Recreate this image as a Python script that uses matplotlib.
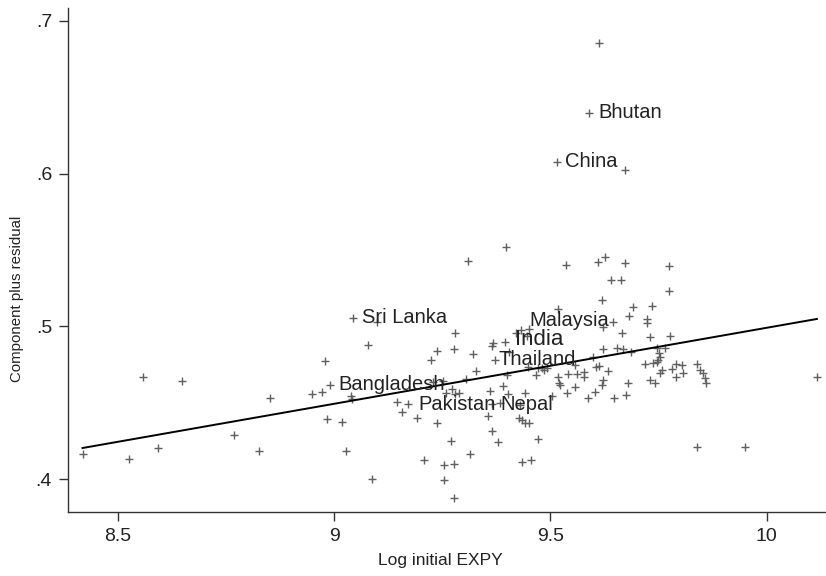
import matplotlib.pyplot as plt

plt.rcParams["font.family"] = ["Liberation Sans", "DejaVu Sans"]

# log initial EXPY and component plus residual
log_expy = [
    8.418, 8.526, 8.557, 8.592, 8.649, 8.768, 8.825, 8.851,
    8.949, 8.971, 8.979, 8.983, 9.017, 9.027, 9.038, 9.040,
    9.079, 9.087, 9.098, 9.146, 9.157, 9.192, 9.208, 9.223,
    9.229, 9.237, 9.237, 9.252, 9.254, 9.254, 9.258, 9.272,
    9.270, 9.277, 9.280, 9.279, 9.278, 9.278, 9.288, 9.304,
    9.309, 9.314, 9.320, 9.327, 9.355, 9.360, 9.364, 9.364,
    9.368, 9.379, 9.383, 9.391, 9.397, 9.400, 9.402, 9.405,
    9.420, 9.428, 9.430, 9.433, 9.435, 9.441, 9.441, 9.445,
    9.449, 9.451, 9.451, 9.455, 9.466, 9.470, 9.472, 9.480,
    9.485, 9.491, 9.503, 9.518, 9.518, 9.520, 9.523, 9.537,
    9.539, 9.541, 9.557, 9.557, 9.561, 9.577, 9.577, 9.587,
    9.599, 9.603, 9.605, 9.609, 9.611, 9.611, 9.618, 9.620,
    9.621, 9.622, 9.622, 9.626, 9.634, 9.640, 9.645, 9.647,
    9.653, 9.663, 9.666, 9.668, 9.672, 9.672, 9.674, 9.680,
    9.682, 9.686, 9.691, 9.718, 9.722, 9.722, 9.730, 9.731,
    9.735, 9.738, 9.742, 9.746, 9.747, 9.752, 9.753, 9.749,
    9.757, 9.753, 9.765, 9.775, 9.774, 9.776, 9.780, 9.790,
    9.803, 9.790, 9.807, 9.838, 9.839, 9.846, 9.853, 9.857,
    9.860, 9.950, 10.116,
]
comp_resid = [
    .4162, .4129, .4666, .4203, .4644, .4286, .4185, .4528,
    .4555, .4568, .4773, .4393, .4371, .4185, .4546, .4524,
    .4878, .4000, .5026, .4506, .4441, .4401, .4124, .4779,
    .4633, .4838, .4365, .4644, .4092, .3993, .4561, .4587,
    .4251, .4849, .4954, .4555, .4096, .3874, .4561, .4655,
    .5428, .4164, .4817, .4707, .4413, .4576, .4871, .4314,
    .4889, .4240, .4500, .4609, .5521, .4681, .4557, .4834,
    .4956, .4401, .4485, .4386, .4113, .4561, .4365, .4936,
    .4735, .4982, .4367, .4124, .4681, .4262, .4725, .4725,
    .4714, .4725, .4546, .5113, .4666, .4627, .4616, .5403,
    .4561, .4688, .4747, .4604, .4688, .4703, .4670, .4532,
    .4797, .4568, .4735, .5419, .6853, .4740, .4616, .5172,
    .4648, .4997, .4853, .5456, .4709, .5303, .5026, .4528,
    .4860, .5303, .4958, .4853, .6024, .5417, .4550, .4631,
    .5067, .4830, .5128, .4751, .5048, .5020, .4648, .4928,
    .5133, .4758, .4631, .4768, .4856, .4823, .4801, .4779,
    .4714, .4692, .4856, .5395, .5231, .4936, .4718, .4753,
    .4747, .4666, .4692, .4212, .4753, .4714, .4692, .4659,
    .4631, .4212, .4670,
]

# labelled countries
countries = ["Bhutan", "China", "Sri Lanka", "Malaysia", "India",
             "Thailand", "Bangladesh", "Pakistan", "Nepal"]
country_x = [9.590, 9.514, 9.044, 9.431, 9.395, 9.372, 8.991, 9.171, 9.364]
country_y = [.6399, .6078, .5056, .4976, .4895, .4779, .4616, .4489, .4491]

# fitted line end points
fit_x = [8.418, 10.116]
fit_y = [.4203, .5048]

# label offsets in points (dx, dy)
offsets = {"Malaysia": (6.2, 6.5), "India": (7.0, 2.0), "Thailand": (2.4, 0.7),
           "Pakistan": (7.2, 0)}

fig = plt.figure(figsize=(8.26, 5.76), dpi=100)
ax = fig.add_axes([68 / 826, 64 / 576, 758 / 826, 504 / 576])

marker_color = "#606060"
ax.plot(log_expy, comp_resid, "+", color=marker_color, markersize=6, markeredgewidth=1.0, linestyle="none")
ax.plot(country_x, country_y, "+", color=marker_color, markersize=6, markeredgewidth=1.0, linestyle="none")
ax.plot(fit_x, fit_y, color="black", linewidth=1.4)

for name, cx, cy in zip(countries, country_x, country_y):
    dx, dy = offsets.get(name, (6.1, 0))
    size = 16 if name == "India" else 14.5
    ax.annotate(name, (cx, cy), xytext=(dx, dy), textcoords="offset points",
                ha="left", va="center", fontsize=size, color="#222222")

ax.set_xlim(8.3844, 10.137)
ax.set_ylim(.3784, .7084)
ax.set_xticks([8.5, 9, 9.5, 10])
ax.set_xticklabels(["8.5", "9", "9.5", "10"])
ax.set_yticks([.4, .5, .6, .7])
ax.set_yticklabels([".4", ".5", ".6", ".7"])

for side in ["top", "right"]:
    ax.spines[side].set_visible(False)
for side in ["left", "bottom"]:
    ax.spines[side].set_color("#333333")
    ax.spines[side].set_linewidth(1.0)
ax.tick_params(direction="out", length=6.5, width=1.0, color="#333333",
               labelsize=14, labelcolor="#222222", pad=5)

ax.set_xlabel("Log initial EXPY", fontsize=12.5, color="#222222")
ax.set_ylabel("Component plus residual", fontsize=10.8, color="#222222")
ax.xaxis.set_label_coords((440 - 68) / 758, (512 - 560) / 504)
ax.xaxis.label.set_va("center")
ax.yaxis.set_label_coords((17 - 68) / 758, (512 - 299) / 504)
ax.yaxis.label.set_va("center")

fig.savefig("out.png", dpi=100)
